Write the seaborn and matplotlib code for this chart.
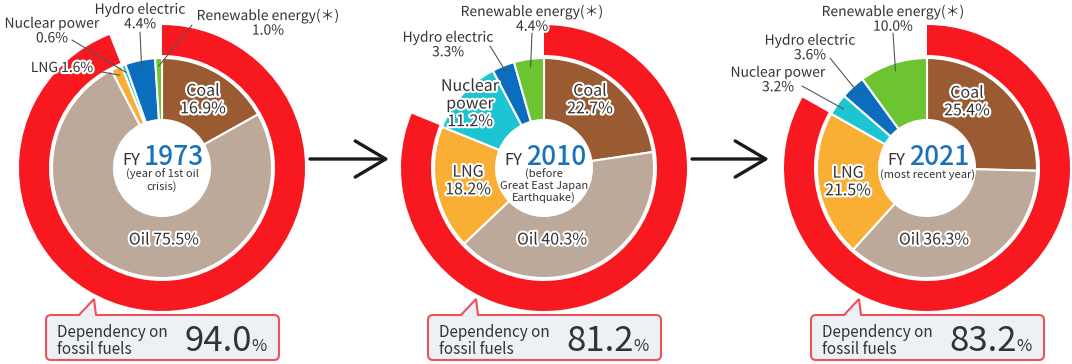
import numpy as np
import matplotlib
matplotlib.use("Agg")
import matplotlib.pyplot as plt
import matplotlib.patheffects as pe
from matplotlib.patches import FancyBboxPatch, Polygon
import seaborn as sns

# data
sources = ["Coal", "Oil", "LNG", "Nuclear power", "Hydro electric", "Renewable energy(＊)"]
years = ["1973", "2010", "2021"]
year_notes = ["(year of 1st oil\ncrisis)", "(before\nGreat East Japan\nEarthquake)", "(most recent year)"]
share_1973 = [16.9, 75.5, 1.6, 0.6, 4.4, 1.0]
share_2010 = [22.7, 40.3, 18.2, 11.2, 3.3, 4.4]
share_2021 = [25.4, 36.3, 21.5, 3.2, 3.6, 10.0]
fossil_dependency = [94.0, 81.2, 83.2]

shares = [share_1973, share_2010, share_2021]
palette = sns.color_palette(["#9A5A32", "#BCA999", "#F9AE34", "#1DC4D2", "#0A6DBE", "#6BC430"])
RED = "#F7191F"
DARK = "#333333"
BLUE = "#1A73BA"

sns.set_theme(style="white")
plt.rcParams['font.family'] = ['Noto Sans CJK JP', 'DejaVu Sans']

# layout (pixels, y downwards)
centers = [162, 544, 927]
cy = 168
R_RING, W_RING = 143, 30
R_PIE, R_HOLE = 110, 48

# label layout per chart: source index -> (kind, text, text pos, line start)
labels = [
    {0: ("in", "Coal\n{}%", (203, 100)), 1: ("in", "Oil {}%", (164, 240)),
     2: ("out", "LNG {}%", (62, 68), (102, 72)),
     3: ("out", "Nuclear power\n{}%", (52, 31), (72, 40)),
     4: ("out", "Hydro electric\n{}%", (140, 17), (140, 32)),
     5: ("out", "Renewable energy(＊)\n{}%", (268, 23), (192, 25))},
    {0: ("in", "Coal\n{}%", (590, 100)), 1: ("in", "Oil {}%", (552, 240)),
     2: ("in", "LNG\n{}%", (468, 181)),
     3: ("in", "Nuclear\npower\n{}%", (470, 104)),
     4: ("out", "Hydro electric\n{}%", (448, 45), (490, 46)),
     5: ("out", "Renewable energy(＊)\n{}%", (532, 19), (532, 33))},
    {0: ("in", "Coal\n{}%", (967, 102)), 1: ("in", "Oil {}%", (934, 240)),
     2: ("in", "LNG\n{}%", (848, 182)),
     3: ("out", "Nuclear power\n{}%", (778, 80), (802, 86)),
     4: ("out", "Hydro electric\n{}%", (810, 48), (830, 58)),
     5: ("out", "Renewable energy(＊)\n{}%", (893, 19), (893, 33))},
]

fig = plt.figure(figsize=(10.72, 3.64), dpi=100)
ax = fig.add_axes([0, 0, 1, 1])

outline = [pe.withStroke(linewidth=3, foreground="white")]


def polar(cx, angle, r):
    # angle clockwise from 12 o'clock, screen coords with y down
    a = np.deg2rad(angle)
    return cx + r * np.sin(a), cy - r * np.cos(a)


for i, cx in enumerate(centers):
    vals = shares[i]
    fossil = fossil_dependency[i]

    # outer red ring = dependency on fossil fuels
    # (y axis is inverted, so counterclockwise in data = clockwise on screen)
    ax.pie([fossil, 100 - fossil], colors=[RED, "none"], radius=R_RING,
           center=(cx, cy), startangle=-90, counterclock=True, frame=True,
           wedgeprops=dict(width=W_RING, linewidth=0))

    # inner donut by energy source
    ax.pie(vals, colors=palette, radius=R_PIE, center=(cx, cy),
           startangle=-90, counterclock=True, frame=True,
           wedgeprops=dict(width=R_PIE - R_HOLE, edgecolor="white", linewidth=1.5))

    # labels
    cum = np.cumsum([0] + vals)
    for j, spec in labels[i].items():
        txt = spec[1].format(vals[j])
        tx, ty = spec[2]
        ax.text(tx, ty, txt, ha="center", va="center", fontsize=11.5 if spec[0] == "in" else 10,
                color=DARK, linespacing=1.05, path_effects=outline, zorder=5)
        if spec[0] == "out":
            mid = (cum[j] + vals[j] / 2) / 100 * 360
            ex, ey = polar(cx, mid, R_PIE - 8)
            ax.annotate("", xy=(ex, ey), xytext=spec[3],
                        arrowprops=dict(arrowstyle="-", color="#555555", lw=0.8,
                                        shrinkA=0, shrinkB=0), zorder=4)

    # centre text
    ax.text(cx - 22, 165, "FY", ha="right", va="baseline", fontsize=12, color=DARK, zorder=5)
    ax.text(cx - 18, 165, years[i], ha="left", va="baseline", fontsize=19,
            color=BLUE, fontweight="medium", zorder=5)
    ax.text(cx, 169, year_notes[i], ha="center", va="top", fontsize=8,
            color=DARK, linespacing=1.1, zorder=5)

    # callout box
    box = FancyBboxPatch((cx - 116, 315), 233, 45, boxstyle="round,pad=0,rounding_size=5",
                         facecolor="#EDF1F5", edgecolor="#F0505A", lw=1.5, zorder=6)
    ax.add_patch(box)
    tail = [(cx - 83, 316.5), (cx - 68, 299), (cx - 66, 316.5)]
    ax.add_patch(Polygon(tail, closed=True, facecolor="#EDF1F5", edgecolor="none", zorder=7))
    ax.plot([tail[0][0], tail[1][0], tail[2][0]], [315, tail[1][1], 315],
            color="#F0505A", lw=1.5, zorder=7, solid_joinstyle="miter")
    ax.text(cx - 105, 341, "Dependency on\nfossil fuels", ha="left", va="center",
            fontsize=11, color=DARK, linespacing=1.0, zorder=8)
    ax.text(cx + 90, 351, f"{fossil:.1f}", ha="right", va="baseline",
            fontsize=25, color=DARK, zorder=8)
    ax.text(cx + 89, 351, "%", ha="left", va="baseline", fontsize=12, color=DARK, zorder=8)

# arrows between years
for x0, x1 in [(310, 389), (692, 769)]:
    ax.annotate("", xy=(x1, 159), xytext=(x0, 159),
                arrowprops=dict(arrowstyle="->,head_length=1.1,head_width=0.65",
                                mutation_scale=20, color="#1A1A1A", lw=2.4,
                                shrinkA=0, shrinkB=0))

ax.set_xlim(0, 1072)
ax.set_ylim(364, 0)
ax.set_aspect("equal")
ax.axis("off")

fig.savefig("out.png", dpi=100)
